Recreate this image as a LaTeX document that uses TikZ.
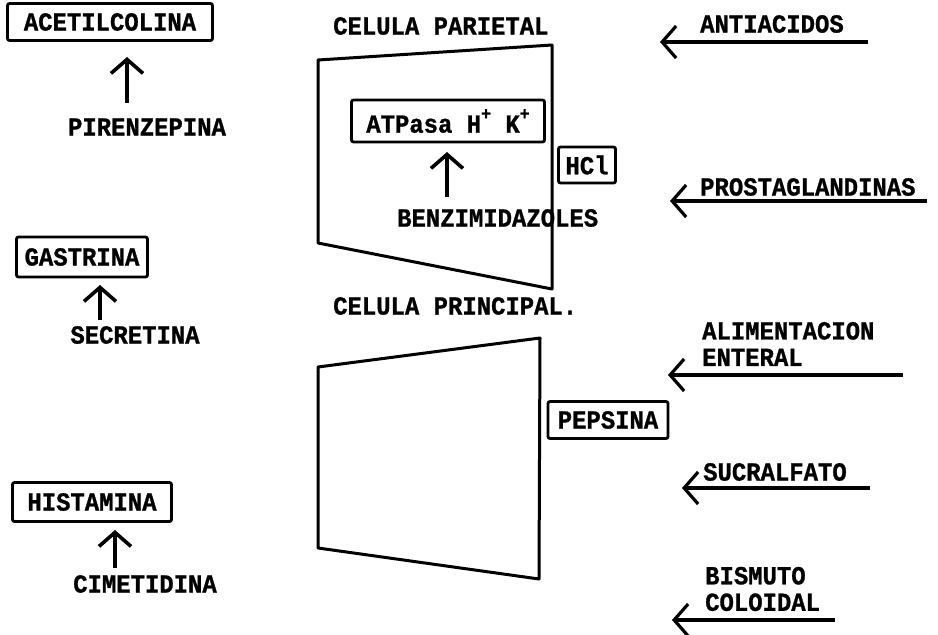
\documentclass[tikz,border=0pt]{standalone}
\usepackage{fontspec}
\newfontfamily\twfont{Liberation Mono}[FakeStretch=0.92, BoldFeatures={FakeBold=1}]
\usetikzlibrary{arrows.meta}
\tikzset{
  lbl/.style={inner sep=0pt, font=\twfont\bfseries\fontsize{26}{26.5}\selectfont},
  twoline/.style={lbl, align=left, anchor=west},
  boxed/.style={lbl, draw, line width=2.8pt, rounded corners=2pt},
  uparr/.style={line width=3.6pt, -{Straight Barb[length=14pt,width=32pt]}},
  leftarr/.style={line width=3.2pt, -{Straight Barb[length=14pt,width=32pt]}},
  cell/.style={line width=3pt, line join=round},
}
\begin{document}
\begin{tikzpicture}[x=1pt,y=-1pt]
\useasboundingbox (0,0) rectangle (938,635);
% left column
\node[boxed, minimum width=205pt, minimum height=37pt] (acet) at (110,22) {ACETILCOLINA};
\node[lbl] (pir) at (147,127) {PIRENZEPINA};
\coordinate (pirt) at (127,103);
\coordinate (acetb) at (127,57);
\draw[uparr] (pirt) -- (acetb);

\node[boxed, minimum width=131pt, minimum height=40pt] (gas) at (82,257) {GASTRINA};
\node[lbl] (sec) at (135,335) {SECRETINA};
\coordinate (sect) at (100,320);
\coordinate (gasb) at (100,285);
\draw[uparr] (sect) -- (gasb);

\node[boxed, minimum width=159pt, minimum height=39pt] (his) at (92,502) {HISTAMINA};
\node[lbl] (cim) at (145,584) {CIMETIDINA};
\coordinate (cimt) at (115,568);
\coordinate (hisb) at (115,530);
\draw[uparr] (cimt) -- (hisb);

% middle column
\node[lbl, anchor=west] (par) at (333,26) {CELULA PARIETAL};
\draw[cell] (318,60) -- (552,45) -- (552,289) -- (318,243) -- cycle;
\node[boxed, minimum width=193pt, minimum height=42pt] (atp) at (448,121) {ATPasa H\raisebox{0.5em}{\fontsize{18}{18}\selectfont+} K\raisebox{0.5em}{\fontsize{18}{18}\selectfont+}};
\node[lbl, anchor=west] (benz) at (397,218) {BENZIMIDAZOLES};
\coordinate (benzt) at (447,197);
\coordinate (atpb) at (447,152);
\draw[uparr] (benzt) -- (atpb);
\node[boxed, minimum width=57pt, minimum height=36pt] (hcl) at (587,165) {HCl};

\node[lbl, anchor=west] (pri) at (333,306) {CELULA PRINCIPAL.};
\draw[cell] (318,367) -- (540,338) -- (539,579) -- (318,548) -- cycle;
\node[boxed, minimum width=120pt, minimum height=37pt] (pep) at (608,420) {PEPSINA};

% right column
\node[lbl, anchor=west] (ant) at (700,24) {ANTIACIDOS};
\coordinate (antr) at (868,42);
\coordinate (antl) at (660,42);
\draw[leftarr] (antr) -- (antl);

\node[lbl, anchor=west] (pro) at (700,187) {PROSTAGLANDINAS};
\coordinate (pror) at (927,201);
\coordinate (prol) at (670,201);
\draw[leftarr] (pror) -- (prol);

\node[twoline] (ali) at (702,344) {ALIMENTACION\\ENTERAL};
\coordinate (alir) at (903,375);
\coordinate (alil) at (668,375);
\draw[leftarr] (alir) -- (alil);

\node[lbl, anchor=west] (suc) at (703,472) {SUCRALFATO};
\coordinate (sucr) at (870,488);
\coordinate (sucl) at (682,488);
\draw[leftarr] (sucr) -- (sucl);

\node[twoline] (bis) at (705,589) {BISMUTO\\COLOIDAL};
\coordinate (bisr) at (835,620);
\coordinate (bisl) at (672,620);
\draw[leftarr] (bisr) -- (bisl);
\end{tikzpicture}
\end{document}
